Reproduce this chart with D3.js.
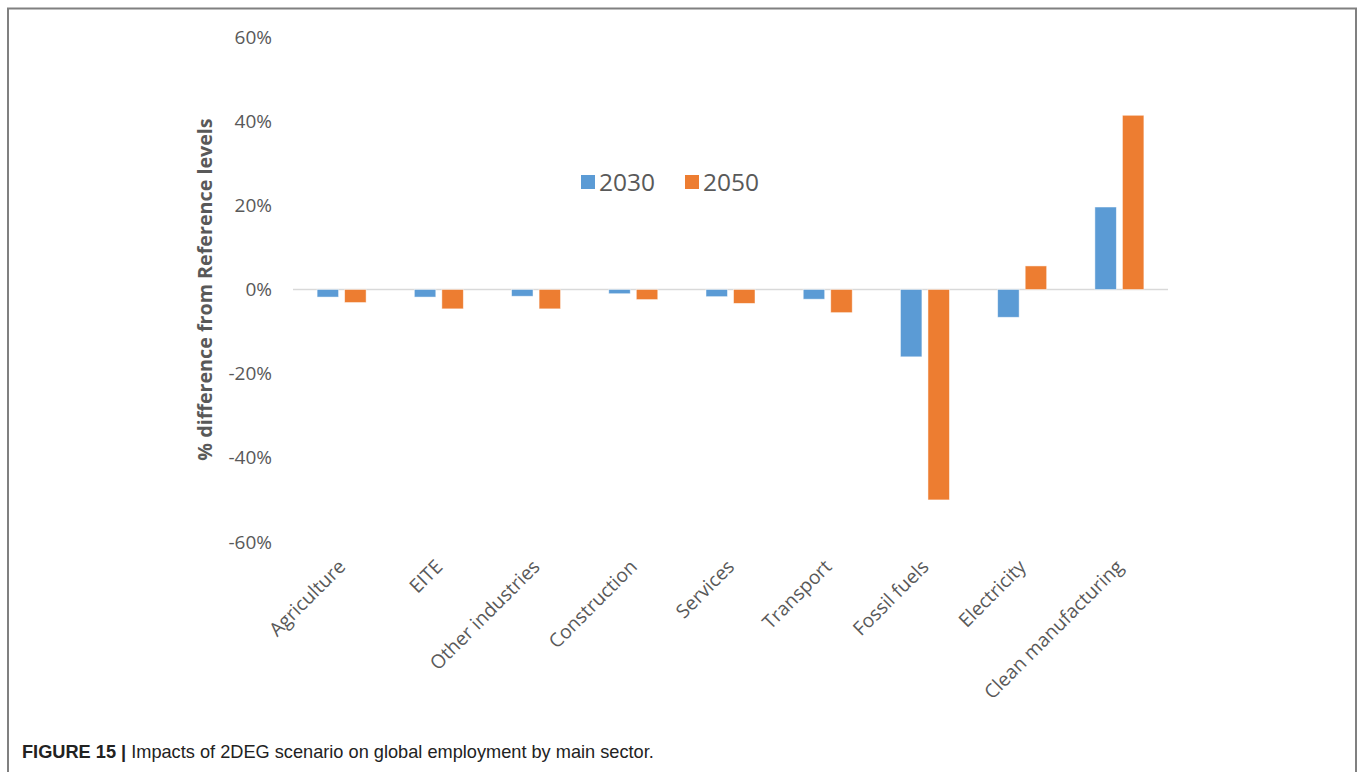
<!DOCTYPE html>
<html>
<head>
<meta charset="utf-8">
<script src="https://cdn.jsdelivr.net/npm/d3@7"></script>
<style>
  html, body { margin: 0; padding: 0; background: #ffffff; }
  svg { display: block; }
</style>
</head>
<body>
<svg id="chart" width="1363" height="772"></svg>
<script>
// Sectors, in drawing order
const sectors = ["Agriculture", "EITE", "Other industries", "Construction", "Services",
                 "Transport", "Fossil fuels", "Electricity", "Clean manufacturing"];
// Series names
const years = ["2030", "2050"];
// % difference from Reference levels
const values2030 = [-1.8, -1.8, -1.6, -1.0, -1.7, -2.3, -16.0, -6.6, 19.6];
const values2050 = [-3.1, -4.6, -4.6, -2.4, -3.3, -5.5, -50.0, 5.6, 41.4];
// Value axis ticks
const yTicks = [-60, -40, -20, 0, 20, 40, 60];
const colors = ["#5b9bd5", "#ed7d31"];

const svg = d3.select("#chart");
const font = "'Open Sans', 'DejaVu Sans', sans-serif";
const textGrey = "#595959";

// figure frame (open at the bottom)
svg.append("path")
  .attr("d", "M8,772 V8.5 H1356 V772")
  .attr("fill", "none")
  .attr("stroke", "#808080")
  .attr("stroke-width", 2);

const y = d3.scaleLinear().domain([-60, 60]).range([542, 37]);
const x = d3.scaleBand().domain(sectors).range([293, 1168]);
const xSub = d3.scaleBand().domain(years).range([-24.5, 24.5]).paddingInner(0.22);

const rows = sectors.map((s, i) => ({ sector: s, vals: [values2030[i], values2050[i]] }));

// y tick labels
svg.append("g")
  .selectAll("text")
  .data(yTicks)
  .join("text")
  .attr("x", 272)
  .attr("y", d => y(d))
  .attr("dy", "0.35em")
  .attr("text-anchor", "end")
  .attr("font-family", font)
  .attr("font-size", 19)
  .attr("fill", textGrey)
  .text(d => d + "%");

// zero baseline
svg.append("line")
  .attr("x1", x.range()[0]).attr("x2", x.range()[1])
  .attr("y1", y(0)).attr("y2", y(0))
  .attr("stroke", "#d9d9d9")
  .attr("stroke-width", 1.5);

// bars
const groups = svg.append("g")
  .selectAll("g")
  .data(rows)
  .join("g")
  .attr("transform", d => `translate(${x(d.sector) + x.bandwidth() / 2},0)`);

groups.selectAll("rect")
  .data(d => d.vals.map((v, k) => ({ year: years[k], v, k })))
  .join("rect")
  .attr("x", d => xSub(d.year))
  .attr("width", xSub.bandwidth())
  .attr("y", d => y(Math.max(0, d.v)))
  .attr("height", d => Math.abs(y(d.v) - y(0)))
  .attr("fill", d => colors[d.k])
  .attr("stroke", "#ffffff")
  .attr("stroke-opacity", 0.6)
  .attr("stroke-width", 0.8);

// category labels, rotated
svg.append("g")
  .selectAll("text")
  .data(sectors)
  .join("text")
  .attr("transform", d => `translate(${x(d) + x.bandwidth() / 2 + 5},568) rotate(-45)`)
  .attr("text-anchor", "end")
  .attr("font-family", font)
  .attr("font-size", 19.2)
  .attr("fill", textGrey)
  .text(d => d);

// axis title
svg.append("text")
  .attr("transform", `translate(212,${(y(60) + y(-60)) / 2}) rotate(-90)`)
  .attr("text-anchor", "middle")
  .attr("font-family", font)
  .attr("font-weight", "bold")
  .attr("font-size", 19.7)
  .attr("fill", textGrey)
  .text("% difference from Reference levels");

// legend
const legend = svg.append("g").attr("transform", "translate(581,182)");
const legendX = [0, 104];
years.forEach((yr, k) => {
  const g = legend.append("g").attr("transform", `translate(${legendX[k]},0)`);
  g.append("rect")
    .attr("x", 0).attr("y", -7)
    .attr("width", 14).attr("height", 14)
    .attr("fill", colors[k]);
  g.append("text")
    .attr("x", 18).attr("y", 0)
    .attr("dy", "0.36em")
    .attr("font-family", font)
    .attr("font-size", 24.5)
    .attr("fill", textGrey)
    .text(yr);
});

// caption
const cap = svg.append("text")
  .attr("x", 22).attr("y", 758)
  .attr("font-family", "'Liberation Sans Narrow', 'Liberation Sans', Arial, sans-serif")
  .attr("font-size", 18.2)
  .attr("fill", "#222222");
cap.append("tspan").attr("font-weight", "bold").text("FIGURE 15 | ");
cap.append("tspan").text("Impacts of 2DEG scenario on global employment by main sector.");
</script>
</body>
</html>
